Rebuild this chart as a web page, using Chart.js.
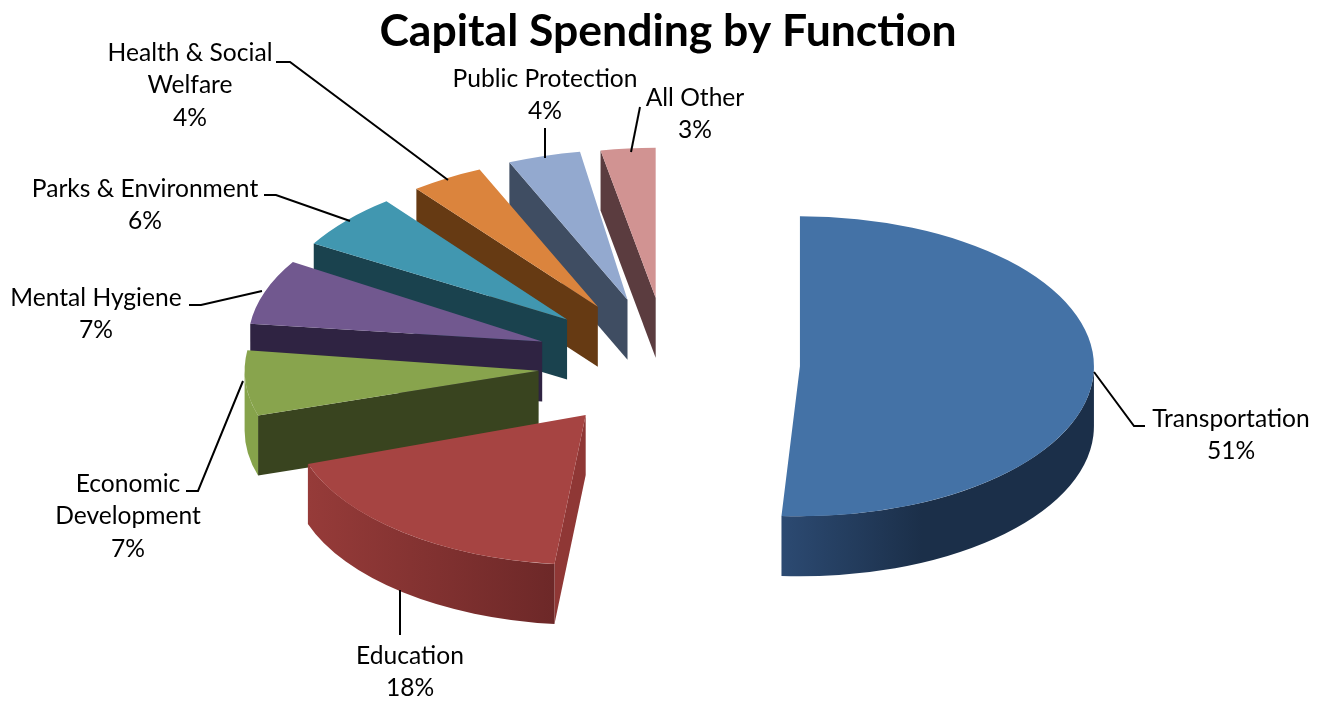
<!DOCTYPE html>
<html>
<head>
<meta charset="utf-8">
<title>Capital Spending by Function</title>
<script src="https://cdn.jsdelivr.net/npm/chart.js@4/dist/chart.umd.min.js"></script>
<style>
    html, body { margin: 0; padding: 0; background: #fff; }
    canvas { display: block; }
</style>
</head>
<body>
<canvas id="spending-chart" width="1329" height="702"></canvas>
<script>
// Chart data
const categories = ['Transportation', 'Education', 'Economic Development', 'Mental Hygiene',
    'Parks & Environment', 'Health & Social Welfare', 'Public Protection', 'All Other'];
const shares = [51, 18, 7, 7, 6, 4, 4, 3];

// Slice colours
const topColors = ['#4472A6', '#A64442', '#88A44D', '#71588F', '#4197B0', '#DB843D', '#93A9CF', '#D19392'];
const cutColors = ['#1C3049', '#8F3735', '#39441F', '#2F2342', '#1A424E', '#663A13', '#3F4D62', '#5B3C3F'];
const rimLeftColors = ['#2C4A72', '#963B39', '#86A34B', '#2F2342', '#1A424E', '#663A13', '#3F4D62', '#5B3C3F'];
const rimRightColors = ['#1B2F49', '#6D2828', '#86A34B', '#2F2342', '#1A424E', '#663A13', '#3F4D62', '#5B3C3F'];
const rimFade = [0.45, 1, 1, 1, 1, 1, 1, 1];

// Pie geometry
const pieRadius = 294;
const squash = 0.51;
const depth = 60;
const explodeBy = [132, 140, 131, 131, 131, 131, 131, 131];
// Small turn of each slice about its tip in degrees, and vertical nudge in pixels
const sliceTurn = [0, 2.5, 4.2, 3.2, 1.7, 1.5, 1.5, 0];
const sliceDrop = [4, -3, 0, 0, 2, 3, 3, 4];

// Label text lines and where each one sits, with its leader line
const labelLines = [
    ['Transportation'], ['Education'], ['Economic', 'Development'], ['Mental Hygiene'],
    ['Parks & Environment'], ['Health & Social', 'Welfare'], ['Public Protection'], ['All Other']
];
const labelPlaces = [
    { x: 1231, y: 419, leader: [[1094, 372], [1134, 426], [1145, 426]] },
    { x: 410, y: 656, leader: [[400, 590], [400, 635]] },
    { x: 128, y: 484, leader: [[243, 381], [198, 491], [186, 491]] },
    { x: 96, y: 298, leader: [[262, 291], [201, 305], [189, 305]] },
    { x: 145, y: 189, leader: [[350, 221], [276, 195], [264, 195]] },
    { x: 190, y: 53, leader: [[448, 180], [290, 62], [276, 62]] },
    { x: 545, y: 79, leader: [[545, 158], [545, 128]] },
    { x: 695, y: 98, leader: [[631, 152], [640, 107]] }
];
const labelLineHeight = 32.5;

function rimPoint(cx, cy, radius, angle) {
    return [cx + radius * Math.cos(angle), cy + radius * squash * Math.sin(angle)];
}

// Flat side of a slice, from the tip out to the rim
function drawCut(ctx, cx, cy, radius, angle, color) {
    const [x, y] = rimPoint(cx, cy, radius, angle);
    ctx.beginPath();
    ctx.moveTo(cx, cy);
    ctx.lineTo(x, y);
    ctx.lineTo(x, y + depth);
    ctx.lineTo(cx, cy + depth);
    ctx.closePath();
    ctx.fillStyle = color;
    ctx.fill();
}

// Curved outer wall, only the part that faces the viewer
function drawRim(ctx, cx, cy, radius, start, end, i) {
    const from = Math.max(start, 0);
    const to = Math.min(end, Math.PI);
    if (from >= to) return;
    const [x1] = rimPoint(cx, cy, radius, to);
    const [x2] = rimPoint(cx, cy, radius, from);
    const gradient = ctx.createLinearGradient(x1, 0, x1 + (x2 - x1) * rimFade[i], 0);
    gradient.addColorStop(0, rimLeftColors[i]);
    gradient.addColorStop(1, rimRightColors[i]);
    ctx.beginPath();
    ctx.ellipse(cx, cy, radius, radius * squash, 0, from, to);
    ctx.ellipse(cx, cy + depth, radius, radius * squash, 0, to, from, true);
    ctx.closePath();
    ctx.fillStyle = gradient;
    ctx.fill();
}

// Draws the pie as a tilted, extruded one: walls first, then the arc itself squashed
const extrudedPie = {
    id: 'extrudedPie',
    beforeDatasetsDraw(chart) {
        const ctx = chart.ctx;
        const arcs = chart.getDatasetMeta(0).data;
        const order = arcs.map((arc, i) => i).sort((a, b) => {
            const midA = (arcs[a].startAngle + arcs[a].endAngle) / 2;
            const midB = (arcs[b].startAngle + arcs[b].endAngle) / 2;
            return Math.sin(midA) - Math.sin(midB);
        });
        order.forEach((i) => {
            const arc = arcs[i];
            const mid = (arc.startAngle + arc.endAngle) / 2;
            const turn = sliceTurn[i] * Math.PI / 180;
            const start = arc.startAngle + turn;
            const end = arc.endAngle + turn;
            const cx = arc.x + explodeBy[i] * Math.cos(mid);
            const cy = arc.y + explodeBy[i] * squash * Math.sin(mid) + sliceDrop[i];
            if (Math.cos(start) < -1e-6) drawCut(ctx, cx, cy, arc.outerRadius, start, cutColors[i]);
            if (Math.cos(end) > 1e-6) drawCut(ctx, cx, cy, arc.outerRadius, end, cutColors[i]);
            drawRim(ctx, cx, cy, arc.outerRadius, start, end, i);
            ctx.save();
            ctx.translate(cx, cy);
            ctx.scale(1, squash);
            ctx.rotate(turn);
            ctx.translate(-arc.x, -arc.y);
            arc.draw(ctx);
            ctx.restore();
        });
        return false;
    }
};

// Data labels and their leader lines
const sliceLabels = {
    id: 'sliceLabels',
    afterDraw(chart) {
        const ctx = chart.ctx;
        ctx.save();
        ctx.font = '24.6px Lato';
        ctx.fillStyle = '#000';
        ctx.strokeStyle = '#000';
        ctx.lineWidth = 2;
        ctx.textAlign = 'center';
        ctx.textBaseline = 'middle';
        labelPlaces.forEach((place, i) => {
            const lines = labelLines[i].concat(shares[i] + '%');
            lines.forEach((line, n) => {
                ctx.fillText(line, place.x, place.y + n * labelLineHeight);
            });
            ctx.beginPath();
            place.leader.forEach(([x, y], n) => {
                if (n === 0) ctx.moveTo(x, y);
                else ctx.lineTo(x, y);
            });
            ctx.stroke();
        });
        ctx.restore();
    }
};

new Chart(document.getElementById('spending-chart'), {
    type: 'pie',
    data: {
        labels: categories,
        datasets: [{
            data: shares,
            backgroundColor: topColors,
            borderWidth: 0,
            radius: pieRadius
        }]
    },
    options: {
        responsive: false,
        animation: false,
        layout: { padding: { left: 7, right: 0, top: 0, bottom: 44 } },
        plugins: {
            legend: { display: false },
            tooltip: { enabled: false },
            title: {
                display: true,
                text: 'Capital Spending by Function',
                color: '#000',
                font: { family: 'Lato', size: 44.5, weight: 'bold' },
                padding: { top: 5, bottom: 4 }
            }
        }
    },
    plugins: [extrudedPie, sliceLabels]
});
</script>
</body>
</html>
